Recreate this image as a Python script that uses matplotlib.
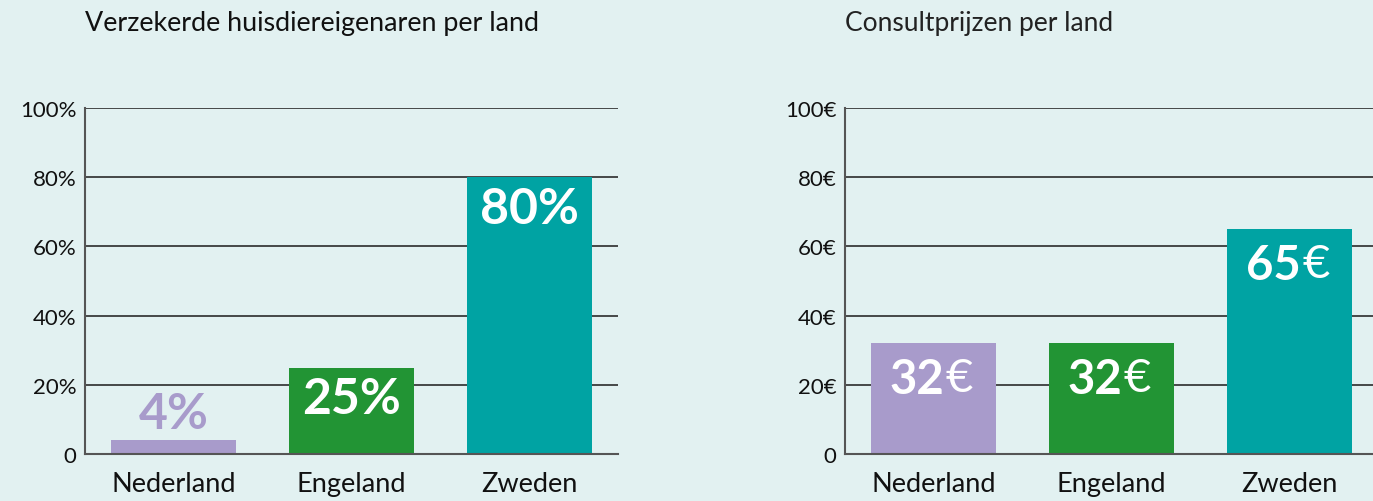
import matplotlib.pyplot as plt

landen = ["Nederland", "Engeland", "Zweden"]
verzekerd = [4, 25, 80]          # procent
consultprijs = [32, 32, 65]      # euro
kleuren = ["#A89BCB", "#229434", "#00A3A3"]

yticks = [0, 20, 40, 60, 80, 100]
bg = "#E2F1F1"
font = "Lato"

fig = plt.figure(figsize=(13.73, 5.02), dpi=100, facecolor=bg)

W, H = 1373, 502


def make_axes(x0):
    # pixel layout: axis from x0 to x0+533, y 109..455
    ax = fig.add_axes([x0 / W, (H - 455) / H, 533 / W, (455 - 109) / H])
    ax.set_facecolor(bg)
    ax.set_ylim(0, 100)
    ax.set_xlim(-0.497, 2.497)
    for y in yticks[1:]:
        ax.axhline(y, color="#2b2b2b", lw=1.2, zorder=1)
    for s in ["top", "right"]:
        ax.spines[s].set_visible(False)
    ax.spines["left"].set_color("#555555")
    ax.spines["left"].set_linewidth(1.5)
    ax.spines["bottom"].set_color("#555555")
    ax.spines["bottom"].set_linewidth(1.5)
    ax.tick_params(length=0, labelsize=16, pad=6, labelcolor="#111111")
    ax.tick_params(axis="x", labelsize=19.5, pad=12)
    return ax


# links: verzekerde eigenaren
ax1 = make_axes(85)
ax1.bar(range(3), verzekerd, width=0.70, color=kleuren, zorder=2)
ax1.set_xticks(range(3))
ax1.set_xticklabels(landen, family=font)
ax1.set_yticks(yticks)
ax1.set_yticklabels(["0"] + [f"{v}%" for v in yticks[1:]], family=font)
for i, v in enumerate(verzekerd):
    if v < 10:
        ax1.annotate(f"{v}%", (i, v), xytext=(0, 3), textcoords="offset points",
                     ha="center", va="bottom", color=kleuren[i],
                     fontsize=36, fontweight="bold", family=font)
    else:
        ax1.annotate(f"{v}%", (i, v), xytext=(0, -6), textcoords="offset points",
                     ha="center", va="top", color="white",
                     fontsize=36, fontweight="bold", family=font)
fig.text(85 / W, 1 - 23 / H, "Verzekerde huisdiereigenaren per land",
         fontsize=19.4, family=font, color="#111111", va="center", ha="left")

# rechts: consultprijzen
ax2 = make_axes(845)
ax2.bar(range(3), consultprijs, width=0.70, color=kleuren, zorder=2)
ax2.set_xticks(range(3))
ax2.set_xticklabels(landen, family=font)
ax2.set_yticks(yticks)
ax2.set_yticklabels(["0"] + [f"{v}€" for v in yticks[1:]], family=font)
for i, v in enumerate(consultprijs):
    ax2.annotate(f"{v}", (i, v), xytext=(8, -10), textcoords="offset points",
                 ha="right", va="top", color="white",
                 fontsize=34, fontweight="bold", family=font)
    ax2.annotate("€", (i, v), xytext=(9, -10), textcoords="offset points",
                 ha="left", va="top", color="white",
                 fontsize=34, fontweight="normal", family=font)
fig.text(845 / W, 1 - 23 / H, "Consultprijzen per land",
         fontsize=19, family=font, color="#222222", va="center", ha="left")

fig.savefig("out.png", dpi=100, facecolor=bg)
